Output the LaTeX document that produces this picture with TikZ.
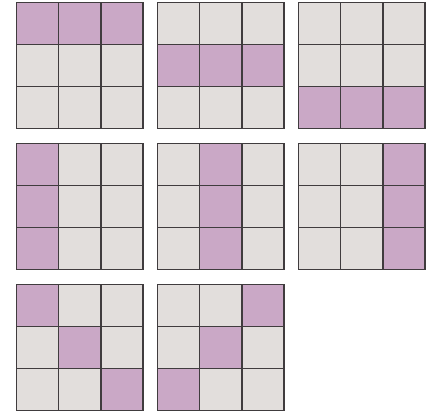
\documentclass[tikz,border=0pt]{standalone}
\usetikzlibrary{calc}
\definecolor{cellgray}{RGB}{226,222,220}
\definecolor{cellpurple}{RGB}{202,168,198}
\definecolor{gridline}{RGB}{64,60,62}
\tikzset{
  cellbox/.style={fill=cellgray},
  hot/.style={fill=cellpurple},
  gridstroke/.style={draw=gridline, line width=1.2bp}
}
\newcommand{\gridpat}[3]{% #1 x0, #2 y0, #3 list of purple cells r/c
  \begin{scope}[shift={(#1,#2)}]
    \fill[cellbox] (0,0) rectangle (126.45,126.45);
    \foreach \r/\c in {#3} {
      \fill[hot] (\c*42.15,\r*42.15) rectangle ++(42.15,42.15);
    }
    \foreach \k in {1,2} {
      \draw[gridstroke] (\k*42.15,0) -- (\k*42.15,126.45);
      \draw[gridstroke] (0,\k*42.15) -- (126.45,\k*42.15);
    }
    \draw[gridstroke] (0,0) rectangle (126.45,126.45);
  \end{scope}
}
\begin{document}
\begin{tikzpicture}[x=1bp,y=-1bp]
\useasboundingbox (0,0) rectangle (443,413);
\gridpat{16.6}{2.3}{0/0,0/1,0/2}
\gridpat{157.6}{2.3}{1/0,1/1,1/2}
\gridpat{298.6}{2.3}{2/0,2/1,2/2}
\gridpat{16.6}{143.3}{0/0,1/0,2/0}
\gridpat{157.6}{143.3}{0/1,1/1,2/1}
\gridpat{298.6}{143.3}{0/2,1/2,2/2}
\gridpat{16.6}{284.3}{0/0,1/1,2/2}
\gridpat{157.6}{284.3}{0/2,1/1,2/0}
\end{tikzpicture}
\end{document}
